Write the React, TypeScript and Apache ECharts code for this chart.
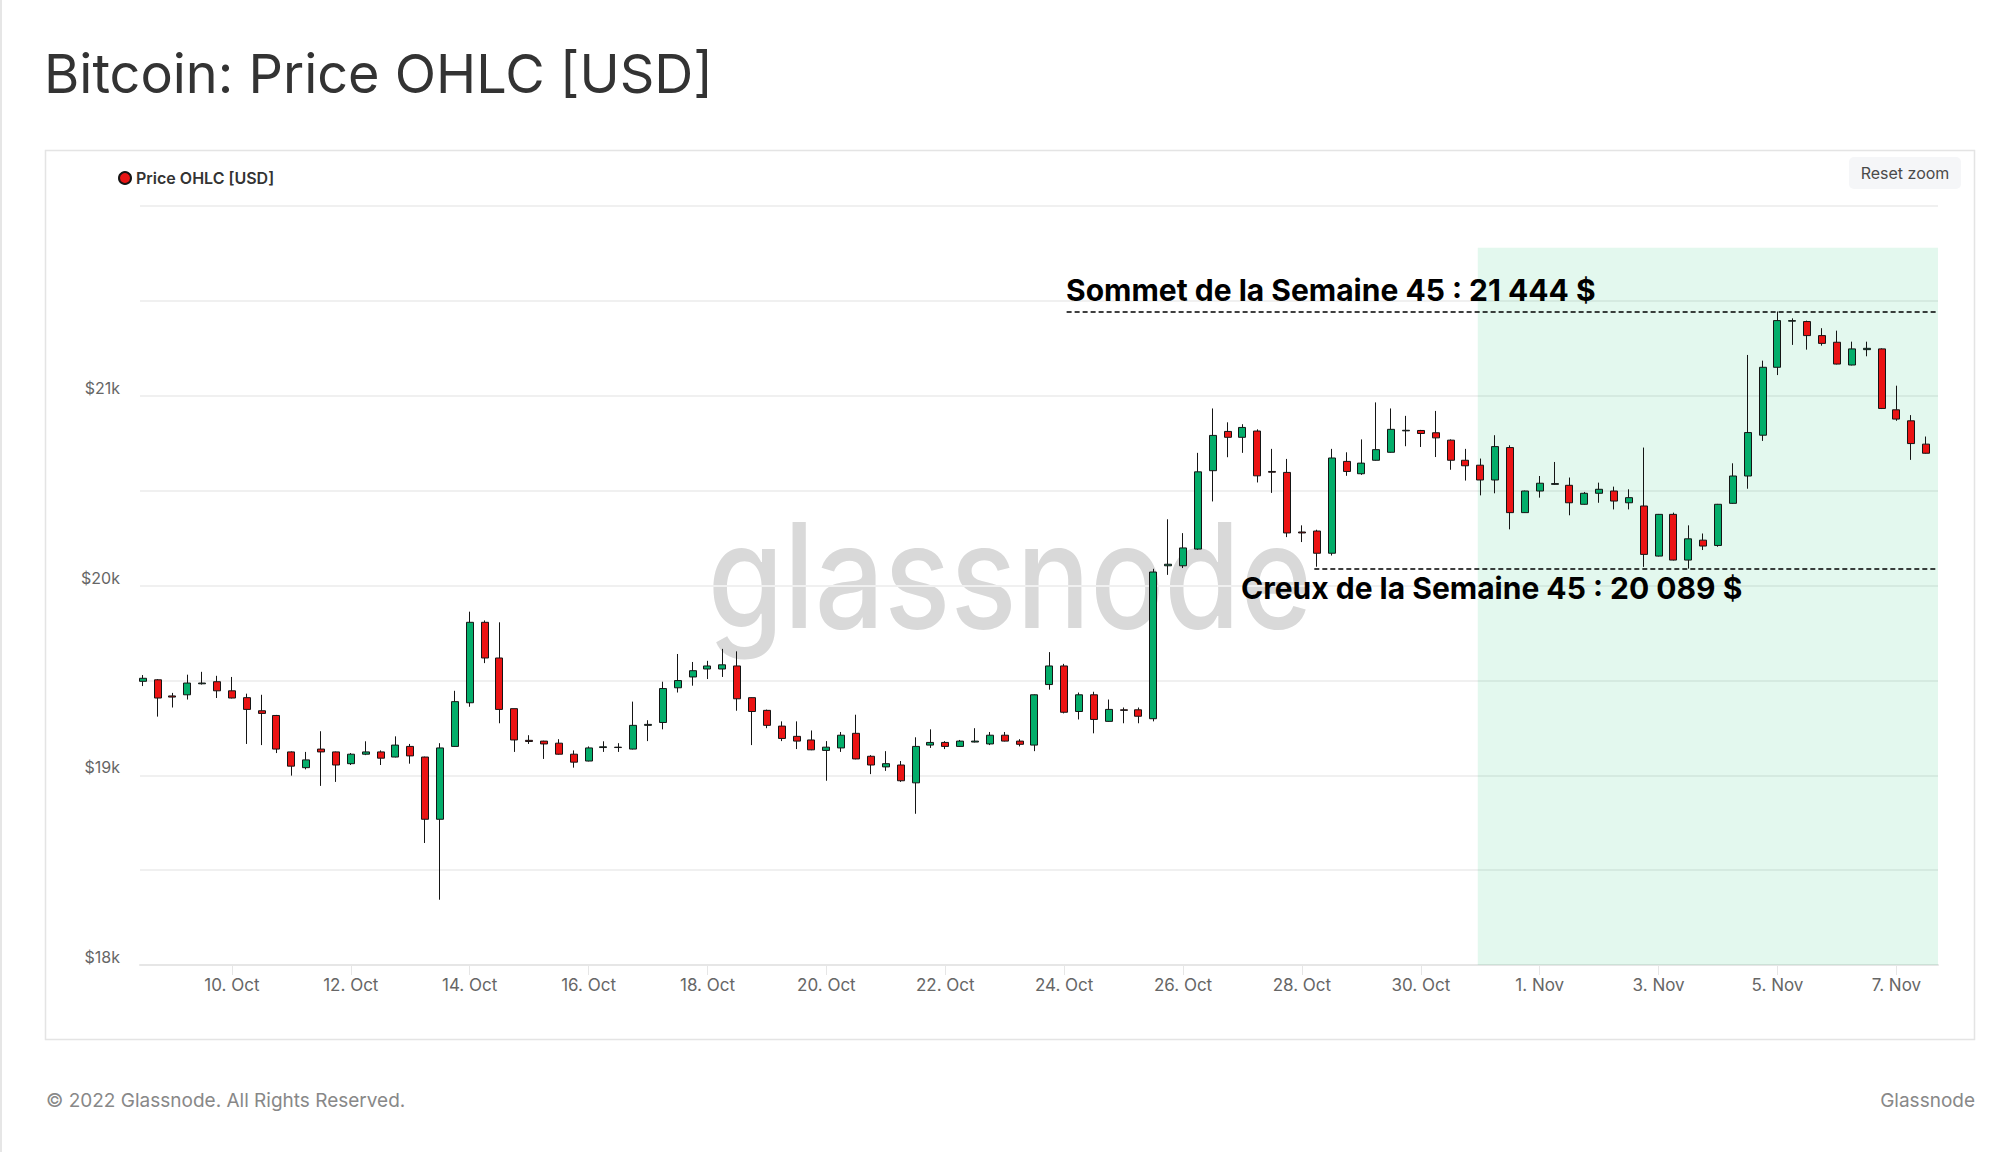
import React, { useEffect, useRef } from 'react';
import * as echarts from 'echarts';

// 6-hour candles, first candle 8 Oct 2022 12:00 UTC
const firstCandle = Date.UTC(2022, 9, 8, 12);
const candleStepMs = 6 * 3600 * 1000;

const opens = [
  19495, 19503, 19418, 19424, 19482, 19493, 19445, 19409, 19340, 19315,
  19123, 19040, 19138, 19123, 19061, 19111, 19123, 19096, 19152, 19096,
  18768, 19152, 19382, 19806, 19618, 19351, 19184, 19180, 19169, 19111,
  19075, 19146, 19148, 19138, 19263, 19278, 19461, 19518, 19560, 19560,
  19576, 19409, 19342, 19259, 19205, 19186, 19131, 19144, 19221, 19100,
  19044, 19054, 18960, 19159, 19173, 19152, 19175, 19165, 19211, 19180,
  19159, 19478, 19576, 19336, 19424, 19284, 19345, 19345, 19298, 20104,
  20104, 20192, 20605, 20812, 20781, 20814, 20601, 20596, 20282, 20287,
  20170, 20654, 20589, 20660, 20702, 20815, 20817, 20805, 20766, 20660,
  20634, 20556, 20727, 20384, 20498, 20533, 20528, 20428, 20486, 20498,
  20436, 20419, 20155, 20375, 20134, 20239, 20211, 20433, 20577, 20792,
  21150, 21393, 21391, 21317, 21282, 21162, 21243, 21247, 20926, 20868,
  20745,
];
const closes = [
  19511, 19407, 19412, 19486, 19486, 19445, 19407, 19347, 19326, 19138,
  19048, 19081, 19123, 19054, 19111, 19123, 19090, 19159, 19102, 18768,
  19144, 19388, 19806, 19618, 19347, 19186, 19178, 19165, 19111, 19069,
  19144, 19150, 19146, 19263, 19268, 19457, 19499, 19551, 19576, 19582,
  19403, 19336, 19263, 19194, 19180, 19134, 19148, 19211, 19086, 19054,
  19061, 18971, 19152, 19173, 19152, 19180, 19180, 19211, 19180, 19163,
  19424, 19576, 19332, 19424, 19294, 19347, 19342, 19311, 20071, 20112,
  20198, 20599, 20791, 20781, 20833, 20578, 20597, 20277, 20277, 20170,
  20672, 20601, 20645, 20716, 20823, 20818, 20801, 20778, 20660, 20631,
  20556, 20732, 20384, 20498, 20539, 20537, 20436, 20486, 20507, 20445,
  20463, 20164, 20375, 20134, 20246, 20208, 20428, 20577, 20806, 21150,
  21396, 21396, 21317, 21276, 21167, 21247, 21250, 20933, 20877, 20748,
  20697,
];
const lows = [
  19470, 19309, 19357, 19399, 19478, 19407, 19405, 19165, 19159, 19117,
  18998, 19031, 18944, 18965, 19054, 19106, 19054, 19094, 19061, 18643,
  18344, 19150, 19361, 19591, 19274, 19123, 19165, 19086, 19109, 19040,
  19073, 19123, 19123, 19136, 19180, 19242, 19436, 19472, 19507, 19518,
  19340, 19159, 19248, 19180, 19138, 19132, 18971, 19123, 19084, 19006,
  19023, 18965, 18797, 19144, 19138, 19150, 19173, 19159, 19178, 19152,
  19127, 19451, 19326, 19294, 19221, 19282, 19274, 19274, 19284, 20056,
  20092, 20188, 20443, 20676, 20699, 20543, 20488, 20255, 20229, 20099,
  20158, 20578, 20583, 20658, 20700, 20734, 20730, 20677, 20610, 20553,
  20475, 20486, 20296, 20382, 20463, 20530, 20370, 20426, 20436, 20401,
  20401, 20098, 20153, 20132, 20089, 20187, 20204, 20431, 20510, 20762,
  21109, 21268, 21243, 21264, 21165, 21160, 21208, 20930, 20868, 20662,
  20695,
];
const highs = [
  19528, 19507, 19434, 19530, 19545, 19524, 19518, 19430, 19424, 19318,
  19126, 19123, 19232, 19125, 19117, 19179, 19131, 19205, 19165, 19098,
  19169, 19445, 19862, 19816, 19806, 19351, 19211, 19182, 19190, 19131,
  19152, 19179, 19169, 19388, 19290, 19493, 19639, 19597, 19603, 19666,
  19653, 19410, 19346, 19284, 19284, 19236, 19180, 19228, 19319, 19106,
  19127, 19075, 19200, 19242, 19180, 19186, 19248, 19228, 19228, 19190,
  19426, 19649, 19587, 19436, 19440, 19399, 19357, 19357, 20088, 20349,
  20276, 20699, 20933, 20860, 20850, 20823, 20720, 20667, 20317, 20294,
  20720, 20702, 20770, 20965, 20933, 20894, 20820, 20920, 20770, 20720,
  20669, 20792, 20739, 20500, 20577, 20651, 20569, 20493, 20542, 20521,
  20507, 20727, 20377, 20384, 20317, 20274, 20430, 20644, 21215, 21185,
  21444, 21408, 21396, 21356, 21343, 21285, 21285, 21250, 21053, 20898,
  20785,
];

const xTickDates = [
  '2022-10-10', '2022-10-12', '2022-10-14', '2022-10-16', '2022-10-18',
  '2022-10-20', '2022-10-22', '2022-10-24', '2022-10-26', '2022-10-28',
  '2022-10-30', '2022-11-01', '2022-11-03', '2022-11-05', '2022-11-07',
];
const monthNames = ['Jan', 'Feb', 'Mar', 'Apr', 'May', 'Jun', 'Jul', 'Aug', 'Sep', 'Oct', 'Nov', 'Dec'];

const yMin = 18000;
const yMax = 22000;
const yStep = 500;

const weekHigh = 21444;
const weekLow = 20089;
const weekAreaStart = Date.UTC(2022, 9, 30, 23);
const weekAreaTop = 21780;
const highLineStart = Date.UTC(2022, 9, 24, 1);
const lowLineStart = Date.UTC(2022, 9, 28, 5);

const xMin = Date.UTC(2022, 9, 8, 10, 54);
const xMax = Date.UTC(2022, 10, 7, 16, 48);

const seriesName = 'Price OHLC [USD]';
const upColor = '#03ad6a';
const downColor = '#eb1313';

export default function App() {
  const ref = useRef<HTMLDivElement>(null);

  useEffect(() => {
    document.body.style.margin = '0';
    const chart = echarts.init(ref.current as HTMLDivElement, null, { renderer: 'svg' });
    const candleData = opens.map((o, i) => [
      firstCandle + i * candleStepMs,
      o,
      closes[i],
      lows[i],
      highs[i],
    ]);
    const tickValues = xTickDates.map((d) => Date.parse(d + 'T00:00:00Z'));
    const font = 'Inter, "Noto Sans", sans-serif';

    chart.setOption({
      animation: false,
      backgroundColor: '#ffffff',
      textStyle: { fontFamily: font },
      grid: { left: 140, right: 62, top: 206, bottom: 187, containLabel: false },
      legend: {
        data: [{ name: seriesName, icon: 'circle', itemStyle: { color: '#e81515' } }],
        left: 113,
        top: 165,
        itemWidth: 12,
        itemHeight: 12,
        selectedMode: false,
        textStyle: { fontSize: 16, fontWeight: 600, color: '#333333', fontFamily: font },
      },
      xAxis: {
        type: 'value',
        min: xMin,
        max: xMax,
        axisLine: { show: true, lineStyle: { color: '#e6e6e6', width: 2 } },
        axisTick: {
          show: true,
          customValues: tickValues,
          length: 10,
          lineStyle: { color: '#e6e6e6', width: 1 },
        },
        axisLabel: {
          customValues: tickValues,
          color: '#666666',
          fontSize: 17,
          margin: 11,
          fontFamily: font,
          formatter: (v: number) => {
            const d = new Date(v);
            return `${d.getUTCDate()}. ${monthNames[d.getUTCMonth()]}`;
          },
        },
        splitLine: { show: false },
      },
      yAxis: {
        type: 'value',
        min: yMin,
        max: yMax,
        interval: yStep,
        axisLine: { show: false },
        axisTick: { show: false },
        splitLine: { show: true, lineStyle: { color: '#f0f0f0', width: 2 } },
        axisLabel: {
          color: '#666666',
          fontSize: 16,
          margin: 20,
          verticalAlign: 'bottom',
          padding: [0, 0, 0, 0],
          fontFamily: font,
          formatter: (v: number) => (v % 1000 === 0 && v < yMax ? `$${v / 1000}k` : ''),
        },
      },
      series: [
        {
          name: seriesName,
          type: 'candlestick',
          data: candleData,
          encode: { x: 0, y: [1, 2, 3, 4] },
          barWidth: 7.5,
          z: 2,
          itemStyle: {
            color: upColor,
            color0: downColor,
            borderColor: '#151515',
            borderColor0: '#151515',
            borderWidth: 1,
          },
          emphasis: { disabled: true },
        },
        {
          name: 'annotations',
          type: 'line',
          data: [],
          z: 5,
          silent: true,
          markArea: {
            silent: true,
            itemStyle: { color: 'rgba(0, 190, 100, 0.11)' },
            data: [[{ coord: [weekAreaStart, weekAreaTop] }, { coord: [xMax, yMin] }]],
          },
          markLine: {
            silent: true,
            symbol: ['none', 'none'],
            label: { show: false },
            lineStyle: { type: [5, 3], color: '#000000', width: 1.5 },
            data: [
              [{ coord: [highLineStart, weekHigh] }, { coord: [xMax, weekHigh] }],
              [{ coord: [lowLineStart, weekLow] }, { coord: [xMax, weekLow] }],
            ],
          },
        },
      ],
      graphic: [
        { type: 'rect', shape: { x: 0, y: 0, width: 2, height: 1152 }, style: { fill: '#e6e6e6' }, z: 0 },
        {
          type: 'rect',
          shape: { x: 45.5, y: 150.5, width: 1929, height: 889 },
          style: { fill: 'none', stroke: '#e4e4e4', lineWidth: 1.5 },
          z: 0,
        },
        {
          type: 'text',
          x: 44,
          y: 73.5,
          style: {
            text: 'Bitcoin: Price OHLC [USD]',
            fill: '#333333',
            fontSize: 54,
            fontWeight: 400,
            fontFamily: font,
            textAlign: 'left',
            textVerticalAlign: 'middle',
          },
        },
        {
          type: 'text',
          x: 1010,
          y: 575,
          scaleX: 0.846,
          z: 0,
          style: {
            text: 'glassnode',
            fill: '#d9d9d9',
            fontSize: 145,
            fontWeight: 500,
            fontFamily: font,
            textAlign: 'center',
            textVerticalAlign: 'middle',
          },
        },
        {
          type: 'rect',
          shape: { x: 1849, y: 157, width: 112, height: 32, r: 5 },
          style: { fill: '#f5f6f8' },
        },
        {
          type: 'text',
          x: 1905,
          y: 173,
          style: {
            text: 'Reset zoom',
            fill: '#4a4a4a',
            fontSize: 16,
            fontFamily: font,
            textAlign: 'center',
            textVerticalAlign: 'middle',
          },
        },
        {
          type: 'text',
          x: 1066,
          y: 290,
          z: 10,
          style: {
            text: `Sommet de la Semaine 45 : 21 444 $`,
            fill: '#000000',
            fontSize: 30,
            fontWeight: 700,
            fontFamily: font,
            textAlign: 'left',
            textVerticalAlign: 'middle',
          },
        },
        {
          type: 'text',
          x: 1241,
          y: 588,
          z: 10,
          style: {
            text: `Creux de la Semaine 45 : 20 089 $`,
            fill: '#000000',
            fontSize: 30,
            fontWeight: 700,
            fontFamily: font,
            textAlign: 'left',
            textVerticalAlign: 'middle',
          },
        },
        {
          type: 'text',
          x: 46,
          y: 1100,
          style: {
            text: '© 2022 Glassnode. All Rights Reserved.',
            fill: '#888888',
            fontSize: 19,
            fontFamily: font,
            textAlign: 'left',
            textVerticalAlign: 'middle',
          },
        },
        {
          type: 'text',
          x: 1975,
          y: 1100,
          style: {
            text: 'Glassnode',
            fill: '#888888',
            fontSize: 19,
            fontFamily: font,
            textAlign: 'right',
            textVerticalAlign: 'middle',
          },
        },
      ],
    });

    return () => chart.dispose();
  }, []);

  return (
    <div
      ref={ref}
      style={{ position: 'absolute', left: 0, top: 0, width: 2000, height: 1152, background: '#ffffff' }}
    />
  );
}
